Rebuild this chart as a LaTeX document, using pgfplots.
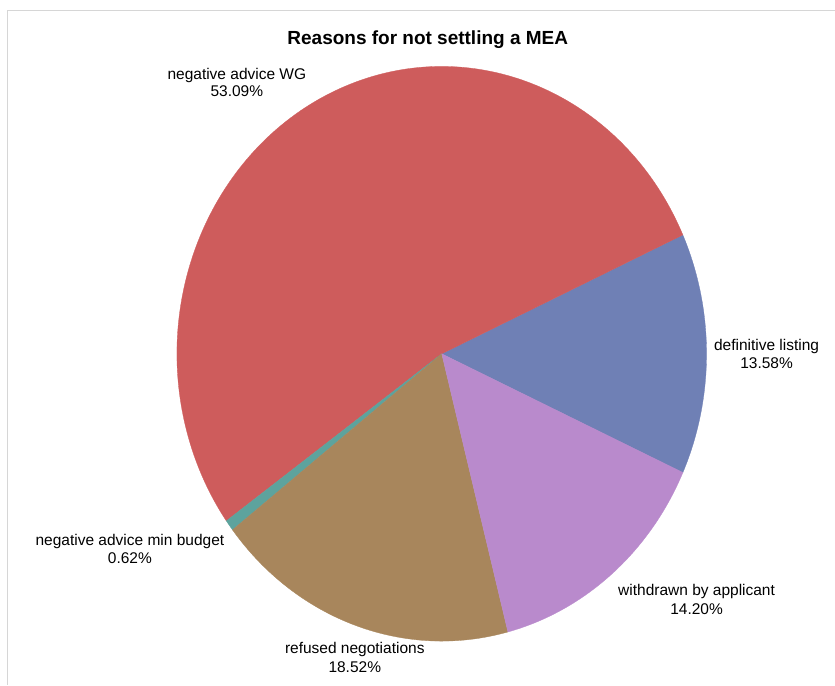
\documentclass[border=0pt]{standalone}
\usepackage{pgfplots}
\pgfplotsset{compat=1.18}
\usepackage{fontspec}
\setmainfont{Liberation Sans}
\definecolor{cWG}{RGB}{206,92,92}
\definecolor{cDL}{RGB}{111,128,181}
\definecolor{cWA}{RGB}{185,138,204}
\definecolor{cRN}{RGB}{168,134,92}
\definecolor{cMB}{RGB}{93,163,157}
\definecolor{frame}{RGB}{214,214,214}
% shares (percent), counter-clockwise from "definitive listing"
\def\pDL{13.58}
\def\pWG{53.09}
\def\pMB{0.62}
\def\pRN{18.52}
\def\pWA{14.20}
\pgfmathsetmacro\aA{-\pDL*1.8}
\pgfmathsetmacro\aB{\aA+\pDL*3.6}
\pgfmathsetmacro\aC{\aB+\pWG*3.6}
\pgfmathsetmacro\aD{\aC+\pMB*3.6}
\pgfmathsetmacro\aE{\aD+\pRN*3.6}
\pgfmathsetmacro\aF{\aE+\pWA*3.6}
\newcommand\pieslice[3]{%
  \fill[#1,draw=#1,line width=0.3pt] (axis cs:442,331) -- ([shift={(#2:265bp and 287.5bp)}]axis cs:442,331)
    arc[start angle=#2, end angle=#3, x radius=265bp, y radius=287.5bp] -- cycle;}
\newcommand\lab{\fontsize{15.5bp}{18bp}\selectfont}
\begin{document}
\begin{tikzpicture}
\begin{axis}[scale only axis, width=835bp, height=685bp,
  xmin=0, xmax=835, ymin=0, ymax=685, hide axis, clip=false,
  at={(0,0)}, anchor=south west]
\path (axis cs:0,0) rectangle (axis cs:835,685);
\draw[frame, line width=1bp] (axis cs:8,0) -- (axis cs:8,674) -- (axis cs:835,674);
\pieslice{cDL}{\aA}{\aB}
\pieslice{cWG}{\aB}{\aC}
\pieslice{cMB}{\aC}{\aD}
\pieslice{cRN}{\aD}{\aE}
\pieslice{cWA}{\aE}{\aF}
\node[anchor=base, font=\bfseries\fontsize{19bp}{22bp}\selectfont] at (axis cs:428,640) {Reasons for not settling a MEA};
\node[anchor=base, font=\lab] at (axis cs:237,605) {negative advice WG};
\node[anchor=base, font=\lab] at (axis cs:237,588) {53.09\%};
\node[anchor=base, font=\lab] at (axis cs:767,334.3) {definitive listing};
\node[anchor=base, font=\lab] at (axis cs:767,316) {13.58\%};
\node[anchor=base, font=\lab] at (axis cs:697,89.3) {withdrawn by applicant};
\node[anchor=base, font=\lab] at (axis cs:697,70) {14.20\%};
\node[anchor=base, font=\lab] at (axis cs:130,139.3) {negative advice min budget};
\node[anchor=base, font=\lab] at (axis cs:130,120.7) {0.62\%};
\node[anchor=base, font=\lab] at (axis cs:355,31) {refused negotiations};
\node[anchor=base, font=\lab] at (axis cs:355,12.3) {18.52\%};
\end{axis}
\end{tikzpicture}
\end{document}
